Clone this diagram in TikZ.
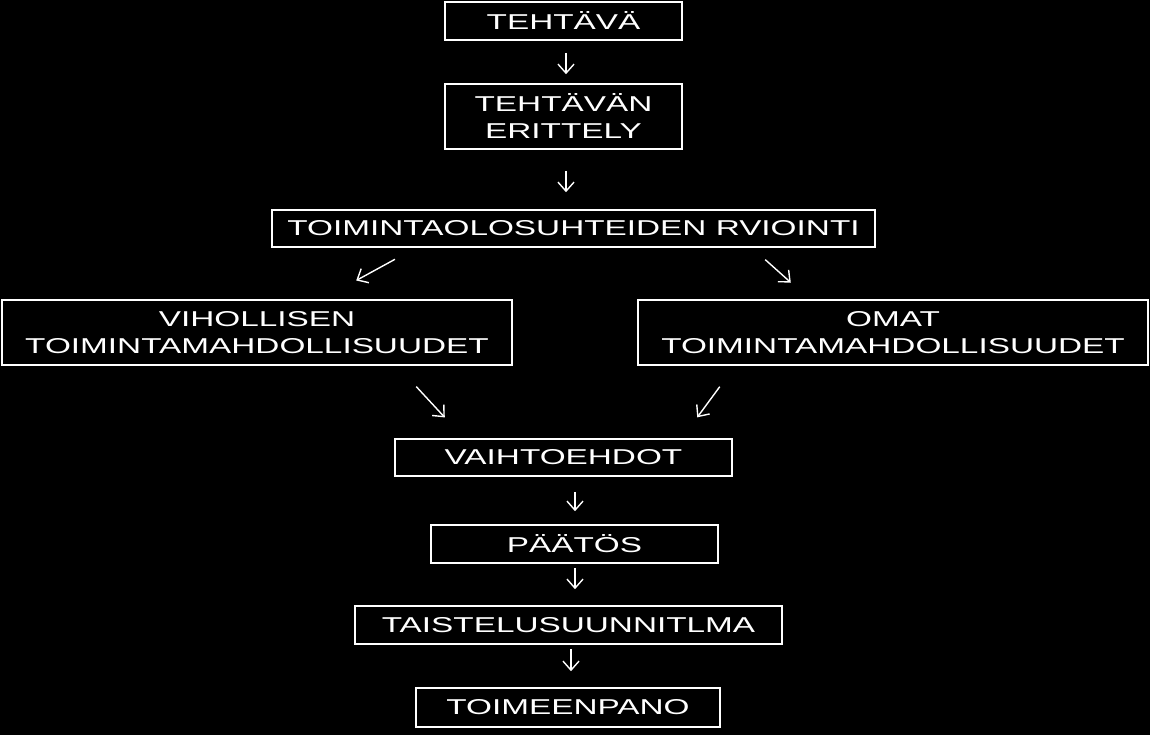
\documentclass[tikz,border=0pt]{standalone}
\usepackage{fontspec}
\usepackage{tikz}
\usetikzlibrary{arrows.meta}
\newfontfamily\boxfont[FakeStretch=1.55]{Liberation Sans}

\begin{document}
\begin{tikzpicture}[x=1pt,y=-1pt,
  stepbox/.style={draw=white,fill=black,text=white,line width=1.6pt,inner sep=0pt,
    align=center,font=\boxfont\fontsize{21.5}{27}\selectfont},
  arr/.style={draw=white,line width=1.4pt,-{Straight Barb[length=9pt,width=16pt]}}]

% background
\fill[black] (0,0) rectangle (1150,735);
\useasboundingbox (0,0) rectangle (1150,735);

% boxes:
\node[stepbox,minimum width=237,minimum height=38] (tehtava) at (563.5,21) {TEHTÄVÄ};
\node[stepbox,minimum width=237,minimum height=65] (erittely) at (563.5,116.5) {TEHTÄVÄN\\ERITTELY};
\node[stepbox,minimum width=603,minimum height=37] (olo) at (573.5,228.5) {TOIMINTAOLOSUHTEIDEN RVIOINTI};
\node[stepbox,minimum width=510,minimum height=65] (vihollinen) at (257,332.5) {VIHOLLISEN\\TOIMINTAMAHDOLLISUUDET};
\node[stepbox,minimum width=510,minimum height=65] (omat) at (893,332.5) {OMAT\\TOIMINTAMAHDOLLISUUDET};
\node[stepbox,minimum width=337,minimum height=37] (vaihtoehdot) at (563.5,457.5) {VAIHTOEHDOT};
\node[stepbox,minimum width=287,minimum height=38] (paatos) at (574.5,544) {PÄÄTÖS};
\node[stepbox,minimum width=427,minimum height=38] (suunnitelma) at (568.5,625) {TAISTELUSUUNNITLMA};
\node[stepbox,minimum width=304,minimum height=39] (toimeenpano) at (568,707.5) {TOIMEENPANO};

% arrows:
\draw[arr,shorten <=12pt,shorten >=9pt] ([xshift=2.5pt]tehtava.south) -- ([xshift=2.5pt]erittely.north);
\draw[arr,shorten <=21pt,shorten >=17pt] ([xshift=2.5pt]erittely.south) -- ([xshift=-7.5pt]olo.north);
\draw[arr,shorten <=24pt,shorten >=39pt] ([xshift=-157.5pt]olo.south) -- ([xshift=65pt]vihollinen.north);
\draw[arr,shorten <=17.7pt,shorten >=25pt] ([xshift=178.5pt]olo.south) -- ([xshift=-83.6pt]omat.north);
\draw[arr,shorten <=28.3pt,shorten >=28.3pt] ([xshift=140pt]vihollinen.south) -- ([xshift=-99.5pt]vaihtoehdot.north);
\draw[arr,shorten <=25.9pt,shorten >=25.9pt] ([xshift=-157.9pt]omat.south) -- ([xshift=118.4pt]vaihtoehdot.north);
\draw[arr,shorten <=15pt,shorten >=13pt] ([xshift=11.5pt]vaihtoehdot.south) -- ([xshift=0.5pt]paatos.north);
\draw[arr,shorten <=4pt,shorten >=16pt] ([xshift=0.5pt]paatos.south) -- ([xshift=6.5pt]suunnitelma.north);
\draw[arr,shorten <=4pt,shorten >=16pt] ([xshift=2.5pt]suunnitelma.south) -- ([xshift=3pt]toimeenpano.north);

\end{tikzpicture}
\end{document}
